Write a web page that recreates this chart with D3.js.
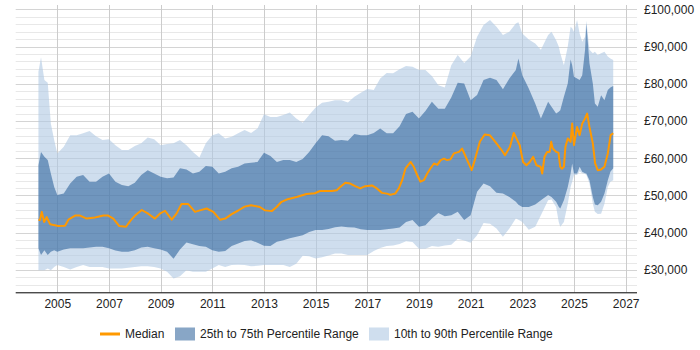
<!DOCTYPE html>
<html>
<head>
<meta charset="utf-8">
<script src="https://cdn.jsdelivr.net/npm/d3@7"></script>
<style>
  html, body { margin: 0; padding: 0; background: #fff; }
  svg { display: block; font-family: "Liberation Sans", Arial, sans-serif; }
</style>
</head>
<body>
<svg id="chart" width="700" height="350"></svg>
<script>
// ---- Data (values in £ thousands) ----
const bandYears = [2004.27,2004.37,2004.5,2004.63,2004.75,2004.88,2005.0,2005.25,2005.5,2005.75,2006.0,2006.25,2006.5,2006.75,2007.0,2007.25,2007.5,2007.75,2008.0,2008.25,2008.5,2008.75,2009.0,2009.25,2009.5,2009.75,2010.0,2010.25,2010.5,2010.75,2011.0,2011.25,2011.5,2011.75,2012.0,2012.25,2012.5,2012.75,2013.0,2013.25,2013.5,2013.75,2014.0,2014.25,2014.5,2014.75,2015.0,2015.25,2015.5,2015.75,2016.0,2016.25,2016.5,2016.75,2017.0,2017.25,2017.5,2017.75,2018.0,2018.25,2018.5,2018.75,2019.0,2019.25,2019.5,2019.75,2020.0,2020.25,2020.5,2020.75,2021.0,2021.25,2021.5,2021.75,2022.0,2022.25,2022.5,2022.75,2022.85,2023.0,2023.25,2023.5,2023.72,2024.0,2024.13,2024.31,2024.41,2024.47,2024.61,2024.76,2024.87,2024.93,2025.0,2025.12,2025.22,2025.32,2025.43,2025.48,2025.6,2025.73,2025.81,2025.92,2026.05,2026.18,2026.31,2026.41,2026.52];
const p10 = [29.9,29.9,29.9,30.4,29.9,30.8,31.3,30.8,30.1,30.8,31.3,30.8,30.8,30.8,30.4,30.4,30.4,30.6,30.8,31.0,31.0,30.8,30.4,29.5,27.7,28.3,29.9,29.5,29.5,29.5,30.4,31.3,30.8,31.3,31.4,31.3,31.0,31.1,31.3,31.3,31.3,31.3,30.8,31.7,33.8,33.7,33.1,33.4,33.9,34.4,34.4,34.0,34.0,34.0,34.0,35.1,35.9,36.4,36.6,37.0,37.7,37.5,35.7,35.7,36.4,36.2,36.6,36.8,38.4,37.9,37.3,39.3,42.6,42.4,41.1,38.9,41.1,43.8,43.5,42.9,40.8,41.6,44.7,48.7,48.9,46.9,42.9,41.6,42.9,47.8,52.3,53.7,55.5,55.5,56.5,56.0,55.8,55.5,53.2,47.8,45.6,45.0,45.1,47.8,52.3,53.7,54.1];
const p25 = [35.8,34.0,35.3,34.0,34.9,35.3,34.9,35.5,35.8,35.8,35.8,36.0,36.2,36.2,35.8,35.2,34.9,34.9,35.3,36.0,36.2,35.8,35.5,34.9,33.0,35.5,37.4,36.9,36.4,36.2,35.3,34.9,35.1,36.4,37.1,37.8,38.0,37.3,36.5,36.4,37.6,38.0,38.5,38.9,39.3,40.2,40.7,40.7,41.0,41.5,41.7,41.5,41.4,40.9,40.7,40.7,40.7,40.9,41.1,41.4,42.9,43.4,41.6,42.0,43.8,45.3,44.4,44.7,45.6,43.4,44.7,51.0,53.2,52.5,50.7,50.5,49.6,48.3,47.5,46.9,46.9,47.6,48.7,50.1,49.6,48.3,47.0,46.5,48.7,52.3,55.9,58.6,55.9,55.9,57.7,56.4,56.0,55.9,54.1,49.6,47.6,47.4,48.3,50.5,54.1,56.4,57.3];
const p75 = [58.1,61.7,60.4,59.5,55.9,52.3,50.1,50.5,53.2,55.0,55.5,53.7,53.7,55.0,55.9,53.7,52.8,52.5,53.4,55.5,56.8,55.9,55.0,54.6,54.8,57.3,57.0,55.9,56.4,57.9,57.7,55.9,56.4,57.3,57.7,58.6,58.8,59.0,61.5,60.6,59.0,59.5,59.5,59.0,59.8,61.7,64.0,66.2,65.9,64.7,64.9,64.7,66.5,66.2,66.2,66.8,68.0,66.7,66.7,68.6,71.9,72.5,70.7,72.7,75.2,73.3,73.3,76.3,80.3,80.1,75.6,77.0,81.0,81.6,81.0,78.5,81.4,83.7,86.8,82.3,78.7,74.7,70.7,75.2,73.8,72.0,72.5,72.9,76.5,80.1,86.5,85.0,81.9,81.4,81.0,82.3,89.1,96.2,85.5,80.1,74.7,73.8,76.9,75.6,78.3,79.0,79.4];
const p90 = [83.2,87.1,81.0,80.3,69.3,64.9,61.3,63.1,66.2,66.2,66.7,67.3,65.9,64.9,65.1,63.5,62.2,62.2,63.3,64.0,65.6,65.1,63.5,63.8,64.0,64.9,63.5,61.7,60.2,64.0,66.2,66.7,65.3,65.8,66.7,67.6,66.8,68.0,71.8,71.1,71.1,71.6,72.3,70.7,69.5,71.6,73.6,74.9,75.2,75.6,75.6,75.0,76.5,77.6,78.6,78.3,81.4,82.9,82.8,83.9,84.8,84.6,83.7,83.7,82.1,79.6,79.0,85.0,87.7,85.6,87.3,92.6,95.8,97.1,95.3,93.1,94.0,96.2,96.5,93.5,91.9,90.8,89.1,93.1,94.0,91.7,90.0,88.2,85.0,90.0,95.3,94.9,94.0,97.1,93.5,91.3,92.6,96.9,89.1,88.2,88.6,87.7,88.2,88.6,87.3,86.8,86.4];

const medianYears = [2004.27,2004.33,2004.40,2004.49,2004.59,2004.72,2005.04,2005.30,2005.43,2005.69,2005.88,2006.14,2006.46,2006.78,2006.97,2007.17,2007.40,2007.66,2007.84,2008.01,2008.27,2008.52,2008.78,2008.97,2009.17,2009.43,2009.62,2009.81,2010.07,2010.33,2010.52,2010.78,2011.04,2011.30,2011.50,2011.75,2011.99,2012.25,2012.50,2012.84,2013.04,2013.30,2013.49,2013.68,2013.88,2014.26,2014.65,2014.97,2015.17,2015.63,2015.82,2015.95,2016.15,2016.34,2016.53,2016.73,2016.92,2017.18,2017.37,2017.57,2017.76,2017.89,2018.08,2018.22,2018.35,2018.48,2018.68,2018.80,2018.93,2019.06,2019.19,2019.32,2019.45,2019.58,2019.71,2019.84,2019.97,2020.09,2020.22,2020.35,2020.55,2020.67,2020.81,2021.04,2021.16,2021.36,2021.55,2021.74,2021.94,2022.20,2022.33,2022.52,2022.67,2022.90,2023.03,2023.16,2023.29,2023.42,2023.55,2023.71,2023.77,2023.86,2023.96,2024.06,2024.12,2024.18,2024.31,2024.40,2024.47,2024.53,2024.61,2024.67,2024.76,2024.87,2024.93,2025.00,2025.12,2025.22,2025.32,2025.43,2025.51,2025.60,2025.73,2025.82,2025.92,2026.05,2026.18,2026.31,2026.42,2026.52];
const median = [43.4,43.4,45.6,42.9,44.2,42.3,41.8,41.9,43.5,44.6,44.6,43.8,44.1,44.6,44.6,43.8,41.8,41.6,43.3,44.6,46.1,45.1,43.8,45.1,45.9,43.5,45.2,47.7,47.7,45.6,46.0,46.5,45.6,43.5,43.8,45.0,45.9,47.0,47.4,46.9,46.0,45.8,46.9,48.3,48.9,49.6,50.4,50.6,51.2,51.2,51.4,52.3,53.4,53.2,52.5,51.9,52.5,52.7,51.9,50.7,50.5,50.2,50.5,51.9,54.1,57.3,59.0,57.7,55.5,53.7,54.1,55.9,57.3,58.6,58.2,59.5,59.9,59.5,59.7,61.3,61.7,62.6,60.4,56.8,59.5,64.5,66.4,66.2,64.5,62.2,60.8,63.0,66.8,63.5,59.0,58.1,59.0,60.4,58.1,57.7,55.9,60.4,61.7,61.7,64.4,62.6,61.7,61.5,57.7,57.2,57.7,63.1,65.3,64.4,69.3,63.5,68.4,66.2,69.3,70.7,72.0,68.4,64.0,58.6,56.8,57.0,57.7,61.3,66.2,66.7];

const xTicks = [2005,2007,2009,2011,2013,2015,2017,2019,2021,2023,2025,2027];
const yMajorTicks = [30,40,50,60,70,80,90,100];
const yMinorTicks = [26,28,32,34,36,38,42,44,46,48,52,54,56,58,62,64,66,68,72,74,76,78,82,84,86,88,92,94,96,98];

const legendItems = [
  {label: "Median", type: "line", color: "#ff9900"},
  {label: "25th to 75th Percentile Range", type: "box", color: "rgba(17,77,141,0.5)"},
  {label: "10th to 90th Percentile Range", type: "box", color: "rgba(175,200,227,0.6)"}
];

// ---- Layout ----
const plot = {left: 15.7, right: 637, top: 5, bottom: 292.3};
const svg = d3.select("#chart");

const x = d3.scaleLinear().domain([2003.39, 2027.44]).range([plot.left, plot.right]);
const y = d3.scaleLinear().domain([24, 101.15]).range([plot.bottom, plot.top]);

// grid
const grid = svg.append("g");
grid.selectAll(".ymin").data(yMinorTicks).enter().append("line")
  .attr("x1", plot.left).attr("x2", plot.right)
  .attr("y1", d => Math.round(y(d)) + 0.5).attr("y2", d => Math.round(y(d)) + 0.5)
  .attr("stroke", "#e8e8e8").attr("stroke-width", 1);
grid.selectAll(".ymaj").data(yMajorTicks).enter().append("line")
  .attr("x1", plot.left).attr("x2", plot.right)
  .attr("y1", d => Math.round(y(d)) + 0.5).attr("y2", d => Math.round(y(d)) + 0.5)
  .attr("stroke", "#d4d4d4").attr("stroke-width", 1);
grid.selectAll(".xg").data(xTicks).enter().append("line")
  .attr("x1", d => Math.round(x(d)) + 0.5).attr("x2", d => Math.round(x(d)) + 0.5)
  .attr("y1", plot.top).attr("y2", plot.bottom)
  .attr("stroke", "#cccccc").attr("stroke-width", 1);

// bands
const bandData = bandYears.map((yr, i) => ({yr, p10: p10[i], p25: p25[i], p75: p75[i], p90: p90[i]}));
const outer = d3.area().x(d => x(d.yr)).y0(d => y(d.p10)).y1(d => y(d.p90));
const inner = d3.area().x(d => x(d.yr)).y0(d => y(d.p25)).y1(d => y(d.p75));
svg.append("path").datum(bandData).attr("d", outer).attr("fill", "rgba(175,200,227,0.6)");
svg.append("path").datum(bandData).attr("d", inner).attr("fill", "rgba(17,77,141,0.5)");

// median
const medData = medianYears.map((yr, i) => ({yr, v: median[i]}));
svg.append("path").datum(medData)
  .attr("d", d3.line().x(d => x(d.yr)).y(d => y(d.v)))
  .attr("fill", "none").attr("stroke", "#ff9900").attr("stroke-width", 2)
  .attr("stroke-linejoin", "round");

// x axis
const xAxis = d3.axisBottom(x).tickValues(xTicks).tickFormat(d3.format("d")).tickSize(0).tickPadding(7);
const gx = svg.append("g").attr("transform", `translate(0,${plot.bottom})`).call(xAxis);
gx.select(".domain").remove();
gx.append("line").attr("x1", plot.left).attr("x2", plot.right).attr("y1", 0.5).attr("y2", 0.5)
  .attr("stroke", "#000").attr("stroke-width", 1);
gx.selectAll("text").attr("font-size", 12).attr("fill", "#222")
  .attr("font-family", "'Liberation Sans', Arial, sans-serif");

// y axis (right)
const yAxis = d3.axisRight(y).tickValues(yMajorTicks)
  .tickFormat(d => "£" + d3.format(",")(d * 1000)).tickSize(0).tickPadding(7);
const gy = svg.append("g").attr("transform", `translate(${plot.right},0)`).call(yAxis);
gy.select(".domain").remove();
gy.selectAll("text").attr("font-size", 12).attr("fill", "#222")
  .attr("font-family", "'Liberation Sans', Arial, sans-serif");

// legend
const legend = svg.append("g").attr("transform", "translate(0,334)");
const legendX = [100, 175, 369];
legendItems.forEach((it, i) => {
  const g = legend.append("g").attr("transform", `translate(${legendX[i]},0)`);
  if (it.type === "line") {
    g.append("line").attr("x1", 0).attr("x2", 20).attr("y1", 0).attr("y2", 0)
      .attr("stroke", it.color).attr("stroke-width", 3);
  } else {
    g.append("rect").attr("x", 0).attr("y", -6.5).attr("width", 20).attr("height", 13).attr("fill", it.color);
  }
  g.append("text").attr("x", 25).attr("y", 0).attr("dy", "0.35em")
    .attr("font-size", 12).attr("fill", "#222").text(it.label);
});
</script>
</body>
</html>
